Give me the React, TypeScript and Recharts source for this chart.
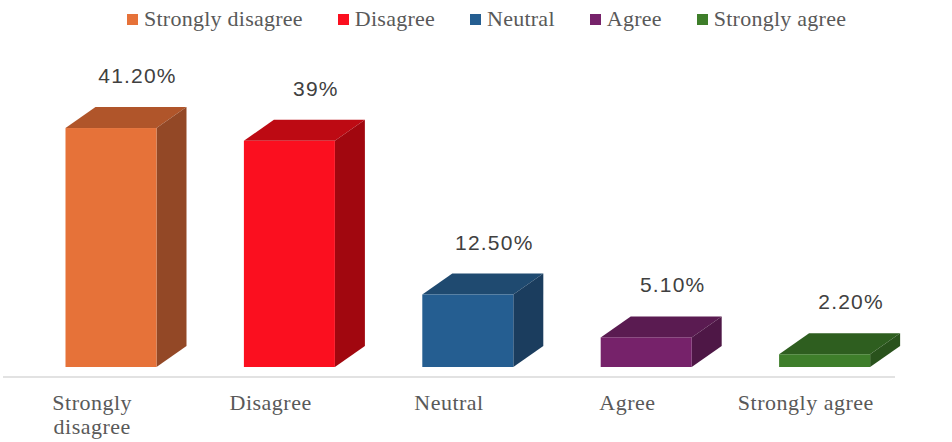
import { BarChart, Bar, XAxis, YAxis, LabelList } from 'recharts'

const categories = ['Strongly disagree', 'Disagree', 'Neutral', 'Agree', 'Strongly agree']
const tickLines = [['Strongly', 'disagree'], ['Disagree'], ['Neutral'], ['Agree'], ['Strongly agree']]
const values = [41.2, 39, 12.5, 5.1, 2.2]
const valueLabels = ['41.20%', '39%', '12.50%', '5.10%', '2.20%']

// front / top / side shades for each bar
const FRONT = ['#e67239', '#fb0f1f', '#255e91', '#76226a', '#3e7e2a']
const TOP = ['#b0552a', '#bd0a13', '#1f4a70', '#5a1b51', '#2e5e1f']
const SIDE = ['#934826', '#a1070f', '#1b3d5e', '#4e1746', '#29521c']

const data = categories.map((name, i) => ({
  name,
  value: values[i],
  label: valueLabels[i],
}))

const SHIFT = 18.5 // front face offset from band centre
const DX = 30
const DY = 21
const FLOOR = 10

const SERIF = '"Liberation Serif", "Times New Roman", serif'
const SANS = '"Liberation Sans", Arial, sans-serif'

function Box3D(props: any) {
  const { x, y, width, height, index } = props
  const fx = x + SHIFT
  const top = y - FLOOR
  const bottom = y + height - FLOOR
  const r = fx + width
  return (
    <g>
      <polygon
        points={`${fx},${top} ${fx + DX},${top - DY} ${r + DX},${top - DY} ${r},${top}`}
        fill={TOP[index]}
      />
      <polygon
        points={`${r},${top} ${r + DX},${top - DY} ${r + DX},${bottom - DY} ${r},${bottom}`}
        fill={SIDE[index]}
      />
      <rect x={fx} y={top} width={width} height={bottom - top} fill={FRONT[index]} />
    </g>
  )
}

function ValueLabel(props: any) {
  const { x, y, width, index } = props
  return (
    <text
      x={x + SHIFT + width / 2 + 26.5}
      y={y - FLOOR - 45}
      textAnchor="middle"
      fontFamily={SANS}
      fontSize={21}
      letterSpacing={1.2}
      fill="#404040"
    >
      {valueLabels[index]}
    </text>
  )
}

function CategoryTick(props: any) {
  const { x, y, index } = props
  return (
    <text x={x} y={y} textAnchor="middle" fontFamily={SERIF} fontSize={22} letterSpacing={0.5} fill="#595959">
      {tickLines[index].map((line, i) => (
        <tspan key={i} x={x} y={y + 33 + i * 24}>
          {line}
        </tspan>
      ))}
    </text>
  )
}

export default function App() {
  return (
    <div style={{ position: 'absolute', left: 0, top: 0, width: 952, height: 442, background: '#fff' }}>
      <div
        style={{
          position: 'absolute',
          left: 127,
          top: 4,
          height: 30,
          display: 'flex',
          alignItems: 'center',
          gap: 35,
          fontFamily: SERIF,
          fontSize: 22,
          letterSpacing: 0.25,
          color: '#595959',
          whiteSpace: 'nowrap',
        }}
      >
        {categories.map((c, i) => (
          <div key={c} style={{ display: 'flex', alignItems: 'center' }}>
            <span style={{ width: 11, height: 11, background: FRONT[i], marginRight: 6, display: 'inline-block' }} />
            <span>{c}</span>
          </div>
        ))}
      </div>
      <BarChart width={952} height={442} data={data} margin={{ top: 87, right: 57, bottom: 0, left: 3 }}>
        <XAxis
          dataKey="name"
          height={65}
          axisLine={{ stroke: '#d9d9d9', strokeWidth: 1.5 }}
          tickLine={false}
          tickSize={0}
          tickMargin={0}
          interval={0}
          tick={<CategoryTick />}
        />
        <YAxis hide domain={[0, 50]} />
        <Bar dataKey="value" barSize={91} shape={<Box3D />} isAnimationActive={false}>
          <LabelList dataKey="label" content={<ValueLabel />} />
        </Bar>
      </BarChart>
    </div>
  )
}
